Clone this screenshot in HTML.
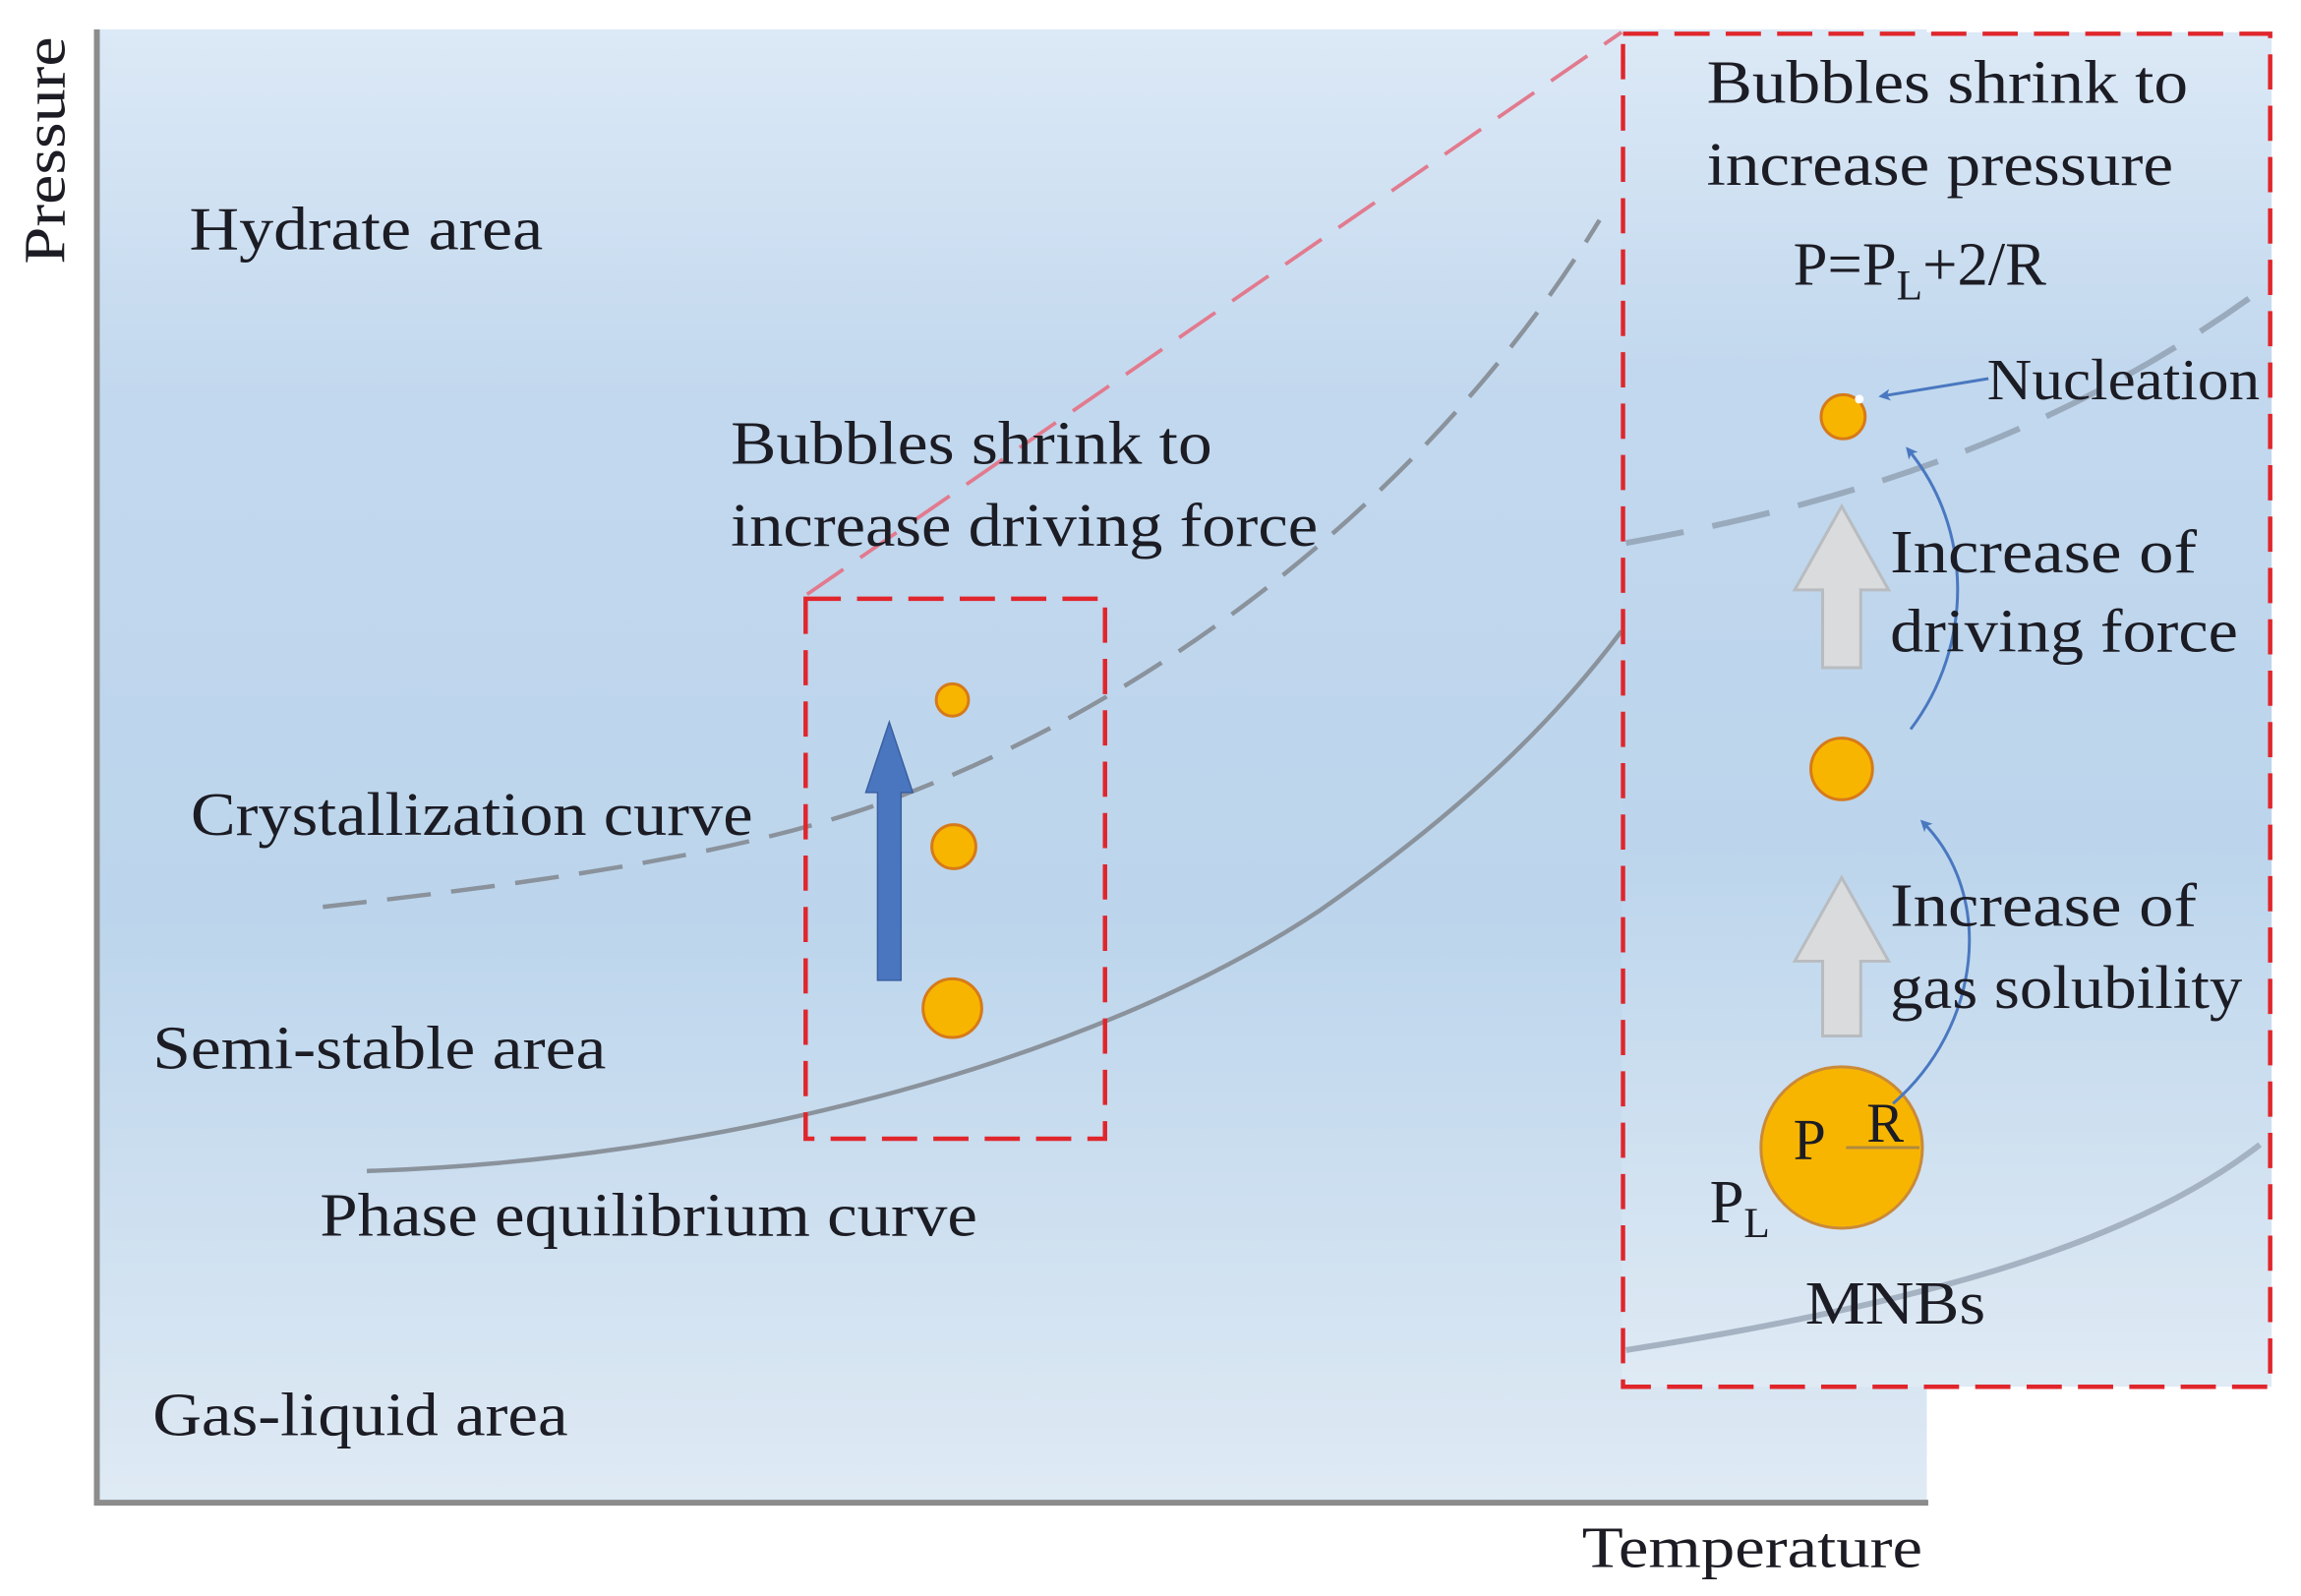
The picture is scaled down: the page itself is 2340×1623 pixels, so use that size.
<!DOCTYPE html>
<html><head><meta charset="utf-8"><style>
html,body{margin:0;padding:0;background:#fff;width:2340px;height:1623px;overflow:hidden}
svg{display:block}
text{font-family:"Liberation Serif",serif;fill:#1c1c24}
</style></head><body>
<svg width="2340" height="1623" viewBox="0 0 1568 1087.6" preserveAspectRatio="none" xmlns="http://www.w3.org/2000/svg">
<defs>
<linearGradient id="bg" x1="0" y1="0" x2="0" y2="1">
<stop offset="0" stop-color="#dce9f6"/>
<stop offset="0.25" stop-color="#c2d8ee"/>
<stop offset="0.6" stop-color="#bcd5ec"/>
<stop offset="1" stop-color="#dfeaf4"/>
</linearGradient>
<marker id="ah" markerWidth="8" markerHeight="8" refX="6" refY="4" orient="auto" markerUnits="userSpaceOnUse">
<path d="M0,0 L8,4 L0,8 L2,4 Z" fill="#4a78c0"/>
</marker>
</defs>
<rect x="65" y="20" width="1248" height="1005" fill="url(#bg)"/>
<rect x="1105" y="22" width="443" height="923" fill="url(#bg)"/>
<line x1="66" y1="20" x2="66" y2="1025" stroke="#8c8c8c" stroke-width="4"/>
<line x1="64" y1="1024" x2="1314" y2="1024" stroke="#8c8c8c" stroke-width="4"/>
<path d="M220,618 C380,600 520,580 620,540 C800,470 980,330 1090,150" fill="none" stroke="#8a929c" stroke-width="3" stroke-dasharray="30,14"/>
<line x1="550" y1="405" x2="1105" y2="22" stroke="#e27a8e" stroke-width="2.5" stroke-dasharray="30,14"/>
<path d="M250,798 C500,790 750,720 900,620 C1000,550 1060,490 1105,430" fill="none" stroke="#8a929c" stroke-width="3"/>
<path d="M1108,370 C1250,345 1400,300 1540,198" fill="none" stroke="#9aaabd" stroke-width="4" stroke-dasharray="40,20"/>
<path d="M1108,920 C1300,890 1450,850 1540,780" fill="none" stroke="#a4b2c2" stroke-width="4"/>
<rect x="549" y="408" width="204" height="368" fill="none" stroke="#e0262c" stroke-width="3" stroke-dasharray="24,11"/>
<circle cx="649" cy="477" r="11" fill="#f8b500" stroke="#d67a1a" stroke-width="2"/>
<circle cx="650" cy="577" r="15" fill="#f8b500" stroke="#d67a1a" stroke-width="2"/>
<circle cx="649" cy="687" r="20" fill="#f8b500" stroke="#d67a1a" stroke-width="2"/>
<path d="M598,668 L614,668 L614,540 L622,540 L606,492 L590,540 L598,540 Z" fill="#4a76c0" stroke="#3a5fa0" stroke-width="1"/>
<rect x="1106" y="23" width="441" height="922" fill="none" stroke="#e0262c" stroke-width="3" stroke-dasharray="24,11"/>
<circle cx="1256" cy="284" r="15" fill="#f8b500" stroke="#d67a1a" stroke-width="2"/>
<circle cx="1267" cy="272" r="3" fill="#fff"/>
<circle cx="1255" cy="524" r="21" fill="#f8b500" stroke="#d67a1a" stroke-width="2"/>
<circle cx="1255" cy="782" r="55" fill="#f8b500" stroke="#c98a3a" stroke-width="2"/>
<line x1="1258" y1="782" x2="1308" y2="782" stroke="#b08a40" stroke-width="2"/>
<path d="M1242,455 L1268,455 L1268,402 L1287,402 L1255,345 L1223,402 L1242,402 Z" fill="#d9dbdc" stroke="#b8bcc0" stroke-width="2"/>
<path d="M1242,706 L1268,706 L1268,655 L1287,655 L1255,598 L1223,655 L1242,655 Z" fill="#d9dbdc" stroke="#b8bcc0" stroke-width="2"/>
<path d="M1290,752 C1350,700 1360,610 1310,560" fill="none" stroke="#4a78c0" stroke-width="2" marker-end="url(#ah)"/>
<path d="M1302,497 C1345,440 1345,360 1300,306" fill="none" stroke="#4a78c0" stroke-width="2" marker-end="url(#ah)"/>
<line x1="1355" y1="258" x2="1282" y2="270" stroke="#4a78c0" stroke-width="2" marker-end="url(#ah)"/>
<g lengthAdjust="spacingAndGlyphs">
<text x="0" y="0" font-size="40" transform="translate(44,180) rotate(-90)" textLength="155" lengthAdjust="spacingAndGlyphs">Pressure</text>
<text x="1078" y="1068" font-size="40" textLength="232" lengthAdjust="spacingAndGlyphs">Temperature</text>
<text x="129" y="170" font-size="42" textLength="241" lengthAdjust="spacingAndGlyphs">Hydrate area</text>
<text x="498" y="316" font-size="42" textLength="328" lengthAdjust="spacingAndGlyphs">Bubbles shrink to</text>
<text x="498" y="372" font-size="42" textLength="400" lengthAdjust="spacingAndGlyphs">increase driving force</text>
<text x="130" y="569" font-size="42" textLength="383" lengthAdjust="spacingAndGlyphs">Crystallization curve</text>
<text x="104" y="728" font-size="42" textLength="309" lengthAdjust="spacingAndGlyphs">Semi-stable area</text>
<text x="218" y="842" font-size="42" textLength="448" lengthAdjust="spacingAndGlyphs">Phase equilibrium curve</text>
<text x="104" y="978" font-size="42" textLength="283" lengthAdjust="spacingAndGlyphs">Gas-liquid area</text>
<text x="1163" y="70" font-size="42" textLength="328" lengthAdjust="spacingAndGlyphs">Bubbles shrink to</text>
<text x="1163" y="126" font-size="42" textLength="318" lengthAdjust="spacingAndGlyphs">increase pressure</text>
<text x="1222" y="194" font-size="42">P=P<tspan font-size="29" dy="10">L</tspan><tspan dy="-10">+2/R</tspan></text>
<text x="1354" y="272" font-size="40" textLength="186" lengthAdjust="spacingAndGlyphs">Nucleation</text>
<text x="1288" y="390" font-size="42" textLength="209" lengthAdjust="spacingAndGlyphs">Increase of</text>
<text x="1288" y="444" font-size="42" textLength="237" lengthAdjust="spacingAndGlyphs">driving force</text>
<text x="1288" y="631" font-size="42" textLength="209" lengthAdjust="spacingAndGlyphs">Increase of</text>
<text x="1288" y="687" font-size="42" textLength="240" lengthAdjust="spacingAndGlyphs">gas solubility</text>
<text x="1222" y="790" font-size="40">P</text>
<text x="1272" y="778" font-size="38">R</text>
<text x="1165" y="833" font-size="42">P<tspan font-size="29" dy="10">L</tspan></text>
<text x="1230" y="902" font-size="42" textLength="123" lengthAdjust="spacingAndGlyphs">MNBs</text>
</g>
</svg>
</body></html>
